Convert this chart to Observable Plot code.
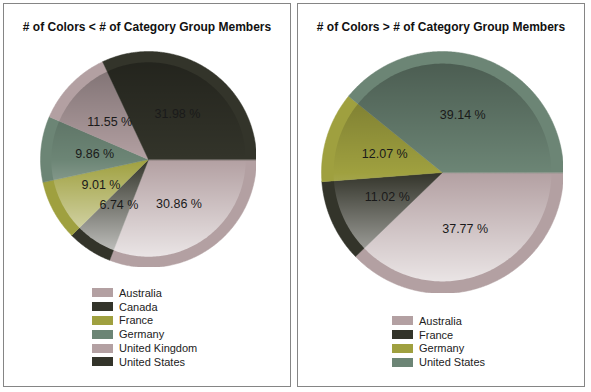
<!DOCTYPE html>
<html>
<head>
<meta charset="utf-8">
<script src="https://cdn.jsdelivr.net/npm/d3@7"></script>
<script src="https://cdn.jsdelivr.net/npm/@observablehq/plot@0.6"></script>
<style>
  body { margin: 0; background: #fff; font-family: "Liberation Sans", Arial, sans-serif; }
  .panel { position: absolute; top: 3px; width: 286px; height: 382px; border: 1.5px solid #858585; background: #fff; }
  .title { position: absolute; left: 0; right: 0; top: 16px; text-align: center; font-weight: bold; font-size: 12px; color: #111; }
  .pie { position: absolute; }
  .legend { position: absolute; font-size: 11px; color: #222; }
  .row { height: 13.8px; display: flex; align-items: center; white-space: nowrap; }
  .sw { width: 21px; height: 9px; margin-right: 6px; }
</style>
</head>
<body>
<svg width="0" height="0" style="position:absolute">
  <defs>
    <linearGradient id="shade" x1="0" y1="0" x2="0" y2="1">
      <stop offset="0" stop-color="#000" stop-opacity="0.3"/>
      <stop offset="0.5" stop-color="#000" stop-opacity="0"/>
      <stop offset="0.5" stop-color="#fff" stop-opacity="0"/>
      <stop offset="1" stop-color="#fff" stop-opacity="0.72"/>
    </linearGradient>
  </defs>
</svg>
<div id="p1" class="panel" style="left:3px"><div class="title"># of Colors &lt; # of Category Group Members</div></div>
<div id="p2" class="panel" style="left:297px"><div class="title"># of Colors &gt; # of Category Group Members</div></div>
<script>
const leftCategories = ["Australia", "Canada", "France", "Germany", "United Kingdom", "United States"];
const leftValues = [30.86, 6.74, 9.01, 9.86, 11.55, 31.98];
const rightCategories = ["Australia", "France", "Germany", "United States"];
const rightValues = [37.77, 11.02, 12.07, 39.14];
const palette = ["#b3a0a2", "#33342a", "#9fa03f", "#6c8575"];

function slicePoints(values, r) {
  const total = d3.sum(values);
  const pts = [];
  let acc = 0;
  values.forEach((v, i) => {
    const a0 = acc / total * 2 * Math.PI, a1 = (acc + v) / total * 2 * Math.PI;
    acc += v;
    const c = palette[i % palette.length];
    pts.push({k: i, x: 0, y: 0, c});
    const n = Math.max(2, Math.ceil((a1 - a0) / 0.01));
    for (let j = 0; j <= n; j++) {
      const a = a0 + (a1 - a0) * j / n;
      pts.push({k: i, x: r * Math.cos(a), y: -r * Math.sin(a), c});
    }
  });
  return pts;
}
function discPoints(r) {
  return d3.range(0, 361).map(d => ({x: r * Math.cos(d * Math.PI / 180), y: r * Math.sin(d * Math.PI / 180)}));
}
function labelPoints(values, r) {
  const total = d3.sum(values);
  let acc = 0;
  return values.map(v => {
    const a = (acc + v / 2) / total * 2 * Math.PI;
    acc += v;
    return {x: r * Math.cos(a), y: -r * Math.sin(a), t: v.toFixed(2) + " %"};
  });
}
function pie(values, size) {
  return Plot.plot({
    width: size, height: size, margin: 0,
    x: {domain: [-1, 1], axis: null},
    y: {domain: [-1, 1], axis: null},
    color: {type: "identity"},
    style: {fontFamily: "Liberation Sans, Arial, sans-serif", background: "transparent"},
    marks: [
      Plot.line(slicePoints(values, 1), {x: "x", y: "y", z: "k", fill: "c", stroke: "c", strokeWidth: 0.5, curve: "linear-closed"}),
      Plot.line(discPoints(0.9), {x: "x", y: "y", fill: "url(#shade)", stroke: "none", curve: "linear-closed"}),
      Plot.text(labelPoints(values, 0.5), {x: "x", y: "y", text: "t", fontSize: 12.5, fill: "#1a1a1a"})
    ]
  });
}
function legend(cats, left, top) {
  const div = document.createElement("div");
  div.className = "legend";
  div.style.left = left + "px";
  div.style.top = top + "px";
  cats.forEach((c, i) => {
    const row = document.createElement("div");
    row.className = "row";
    const sw = document.createElement("div");
    sw.className = "sw";
    sw.style.background = palette[i % palette.length];
    row.appendChild(sw);
    row.appendChild(document.createTextNode(c));
    div.appendChild(row);
  });
  return div;
}
const p1 = document.getElementById("p1"), p2 = document.getElementById("p2");
const s1 = pie(leftValues, 216);
s1.classList.add("pie"); s1.style.left = (148 - 108 - 4.5) + "px"; s1.style.top = (159 - 108 - 4.5) + "px";
p1.appendChild(s1);
p1.appendChild(legend(leftCategories, 88, 282));
const s2 = pie(rightValues, 242);
s2.classList.add("pie"); s2.style.left = (442 - 121 - 298.5) + "px"; s2.style.top = (172.5 - 121 - 4.5) + "px";
p2.appendChild(s2);
p2.appendChild(legend(rightCategories, 94, 310));
</script>
</body>
</html>
